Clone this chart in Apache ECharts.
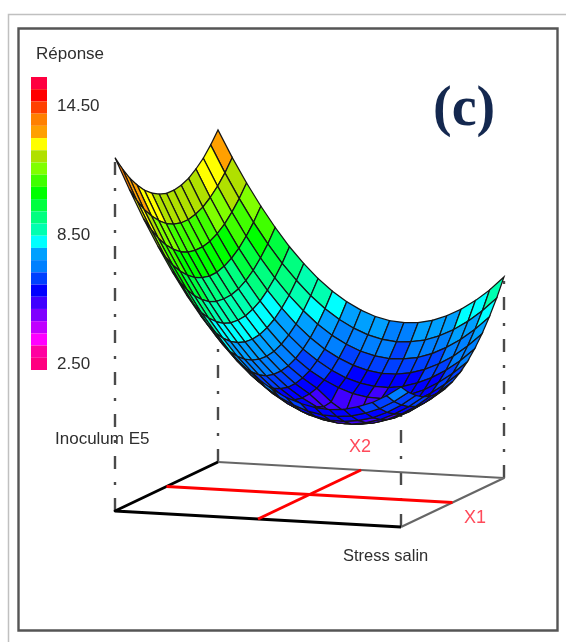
<!DOCTYPE html>
<html>
<head>
<meta charset="utf-8">
<script src="https://cdn.jsdelivr.net/npm/echarts@6/dist/echarts.min.js"></script>
<style>
html,body{margin:0;padding:0;background:#fff}
#c{width:566px;height:642px;filter:blur(0.75px)}
</style>
</head>
<body>
<div id="c"></div>
<script>
const titleLegend = 'Réponse';
const axisNameX2 = 'Inoculum E5';
const axisNameX1 = 'Stress salin';
const panelLetter = '(c)';
const colorTicks = [14.5, 8.5, 2.5];
const colorMin = 2.17, colorMax = 15.8, baseValue = 2.14;
// bottom band first
const bandColors = ['#ff0080','#ff00a0','#ff00ff','#c000ff','#8000ff','#4000ff','#0000ff','#0040ff','#0080ff','#00a0ff','#00ffff','#00ffb0','#00ff80','#00ff40','#00ff00','#40ff00','#80ff00','#b0e000','#ffff00','#ffa000','#ff8000','#ff4000','#ff0000','#ff0040'];
// response: rows = X2 (front to back), columns = X1 (left to right)
const response = [
[14.76,13.66,12.63,11.68,10.80,10.00,9.28,8.63,8.06,7.57,7.14,6.80,6.53,6.35,6.23,6.19,6.23,6.35,6.53,6.80,7.14],
[14.24,13.14,12.13,11.18,10.32,9.53,8.82,8.18,7.62,7.13,6.73,6.39,6.14,5.95,5.85,5.82,5.87,6.00,6.19,6.47,6.83],
[13.78,12.69,11.69,10.76,9.91,9.12,8.43,7.79,7.24,6.77,6.37,6.05,5.80,5.64,5.54,5.52,5.58,5.71,5.93,6.22,6.59],
[13.41,12.34,11.33,10.42,9.57,8.80,8.11,7.49,6.96,6.49,6.10,5.79,5.55,5.40,5.31,5.30,5.38,5.52,5.75,6.04,6.41],
[13.10,12.04,11.05,10.15,9.31,8.55,7.87,7.26,6.73,6.28,5.90,5.59,5.38,5.22,5.16,5.16,5.24,5.40,5.63,5.93,6.32],
[12.87,11.81,10.83,9.94,9.11,8.36,7.70,7.10,6.57,6.14,5.77,5.47,5.27,5.13,5.06,5.08,5.17,5.33,5.58,5.90,6.29],
[12.71,11.66,10.69,9.81,8.99,8.25,7.60,7.01,6.50,6.06,5.71,5.43,5.22,4.95,4.92,4.98,5.17,5.35,5.61,5.93,6.33],
[12.61,11.58,10.63,9.74,8.95,8.22,7.57,6.99,6.49,6.07,5.73,5.30,4.95,4.85,4.85,4.95,5.25,5.44,5.70,6.04,6.45],
[12.60,11.57,10.63,9.75,8.97,8.25,7.61,7.04,6.55,6.15,5.81,5.35,5.00,4.95,4.95,5.10,5.40,5.59,5.87,6.23,6.65],
[12.65,11.64,10.70,9.84,9.06,8.36,7.73,7.17,6.69,6.29,5.98,5.73,5.55,5.45,5.43,5.49,5.63,5.83,6.12,6.48,6.91],
[12.77,11.77,10.85,10.00,9.23,8.53,7.91,7.37,6.90,6.52,6.20,5.96,5.80,5.71,5.70,5.77,5.92,6.14,6.43,6.80,7.25],
[12.98,11.99,11.07,10.23,9.47,8.79,8.18,7.64,7.18,6.80,6.51,6.28,6.13,6.05,6.05,6.13,6.28,6.51,6.81,7.20,7.66],
[13.24,12.27,11.37,10.54,9.79,9.11,8.51,7.99,7.54,7.17,6.88,6.66,6.52,6.45,6.47,6.55,6.72,6.97,7.28,7.67,8.14],
[13.59,12.62,11.73,10.91,10.17,9.50,8.92,8.40,7.97,7.61,7.33,7.12,6.99,6.93,6.96,7.05,7.23,7.48,7.81,8.21,8.69],
[14.00,13.04,12.16,11.36,10.63,9.97,9.40,8.89,8.47,8.12,7.85,7.65,7.53,7.49,7.52,7.63,7.82,8.08,8.42,8.83,9.32]
];

// oblique view of the (X1, X2, response) box onto the page axes
function project(u, v, val) {
  return [115 + 286 * u + 103 * v, 511 + 16 * u - 49 * v - 28 * (val - baseValue)];
}
const nV = response.length, nU = response[0].length;
const uAt = i => i / (nU - 1), vAt = j => j / (nV - 1);

// cells, painted back to front
const cells = [];
for (let j = nV - 2; j >= 0; j--) {
  for (let i = 0; i < nU - 1; i++) {
    const m = (response[j][i] + response[j][i+1] + response[j+1][i] + response[j+1][i+1]) / 4;
    cells.push([i, j, m]);
  }
}
const line = pts => pts.map(p => project(p[0], p[1], p.length > 2 ? p[2] : baseValue));
const dropCorners = [[0,0],[0,1],[1,1],[1,0]];
const cornerValue = (u,v) => response[v * (nV-1)][u * (nU-1)];

const lineSeries = (data, color, width, dash, z) => ({
  type:'line', data, xAxisIndex:0, yAxisIndex:0, symbol:'none', silent:true, z,
  lineStyle:{color, width, type: dash || 'solid', join:'round'}, animation:false
});

const series = [];
dropCorners.forEach(c => series.push(lineSeries(line([[c[0],c[1]],[c[0],c[1],cornerValue(c[0],c[1])]]), '#4a4a4a', 2.4, [13,13,3,13], 1)));
series.push(lineSeries(line([[0,1],[1,1],[1,0]]), '#666', 2.2, null, 2));
series.push(lineSeries(line([[0,1],[0,0],[1,0]]), '#000', 2.8, null, 3));
series.push(lineSeries(line([[0,.5],[1,.5]]), '#ff0000', 3, null, 4));
series.push(lineSeries(line([[.5,0],[.5,1]]), '#ff0000', 3, null, 4));
const surfaceIndex = series.length;
series.push({
  type:'custom', xAxisIndex:0, yAxisIndex:0, data:cells, z:5, silent:true, clip:false,
  dimensions:['i','j','value'], encode:{x:0, y:1},
  renderItem(params, api) {
    const i = api.value(0), j = api.value(1);
    const pts = [[i,j],[i+1,j],[i+1,j+1],[i,j+1]].map(p =>
      api.coord(project(uAt(p[0]), vAt(p[1]), response[p[1]][p[0]])));
    return {type:'polygon', shape:{points:pts}, style:{fill:api.visual('color'), stroke:'#161616', lineWidth:1.25}};
  }
});

const txt = (x, y, text, font, fill, extra) => ({type:'text', left:x, top:y, silent:true,
  style:Object.assign({text, font, fill}, extra||{})});

const option = {
  animation:false,
  backgroundColor:'#fff',
  grid:[
    {left:0, top:0, width:566, height:642},
    {left:31, top:78, width:16, height:293}
  ],
  xAxis:[
    {type:'value', min:0, max:566, show:false, gridIndex:0},
    {type:'value', min:0, max:1, show:false, gridIndex:1}
  ],
  yAxis:[
    {type:'value', min:0, max:642, inverse:true, show:false, gridIndex:0},
    {type:'value', min:colorMin, max:colorMax, gridIndex:1, position:'right',
     axisLine:{show:false}, axisTick:{show:false}, splitLine:{show:false},
     axisLabel:{customValues:colorTicks, margin:10, color:'#2e2e2e', fontFamily:'Liberation Sans', fontSize:17,
       formatter:v => v.toFixed(2)}}
  ],
  visualMap:{
    type:'piecewise', seriesIndex:surfaceIndex, dimension:2, min:colorMin, max:colorMax, splitNumber:24, precision:3,
    orient:'vertical', left:31, top:77, itemWidth:16, itemHeight:293/24, itemGap:0, itemSymbol:'rect',
    showLabel:false, selectedMode:false, hoverLink:false, padding:0, textGap:0, text:null,
    inRange:{color:bandColors}, outOfRange:{color:'#ccc'}
  },
  series,
  graphic:[
    {type:'polyline', silent:true, z:0, shape:{points:[[8.5,642],[8.5,14.5],[566,14.5]]}, style:{fill:null, stroke:'#c0c0c0', lineWidth:1.5}},
    {type:'rect', silent:true, z:0, shape:{x:18.5,y:28.5,width:539,height:602}, style:{fill:null, stroke:'#555', lineWidth:2.4}},
    txt(36, 46, titleLegend, '17px "Liberation Sans"', '#2e2e2e'),
    txt(55, 431, axisNameX2, '17px "Liberation Sans"', '#2e2e2e'),
    txt(343, 548, axisNameX1, '16.5px "Liberation Sans"', '#2e2e2e'),
    txt(349, 438, 'X2', '18px "Liberation Sans"', '#ff4a5a'),
    txt(464, 509, 'X1', '18px "Liberation Sans"', '#ff4a5a'),
    txt(433, 83, panelLetter, 'bold 56px "Liberation Serif"', '#14284f', {shadowBlur:8, shadowColor:'#5f8fd0', shadowOffsetX:1, shadowOffsetY:2})
  ]
};
const chart = echarts.init(document.getElementById('c'), null, {width:566, height:642});
chart.setOption(option);
</script>
</body>
</html>
